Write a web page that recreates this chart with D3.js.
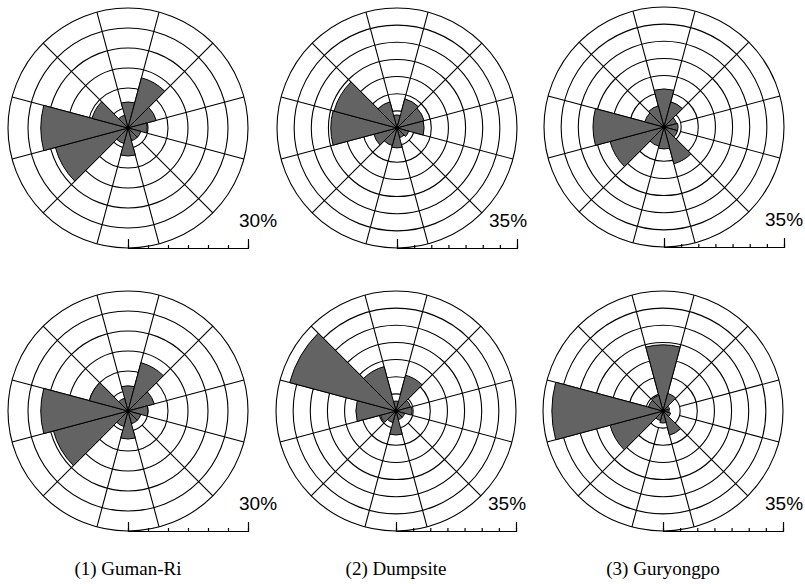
<!DOCTYPE html>
<html>
<head>
<meta charset="utf-8">
<script src="https://cdn.jsdelivr.net/npm/d3@7"></script>
<style>
body { margin: 0; background: white; }
</style>
</head>
<body>
<svg id="chart" width="805" height="584"></svg>
<script>
// wind directions (degrees clockwise from north), 30 degree sectors
var directions = [0, 30, 60, 90, 120, 150, 180, 210, 240, 270, 300, 330];
var siteNames = ["(1) Guman-Ri", "(2) Dumpsite", "(3) Guryongpo"];
var scaleMax = [30, 35, 35, 30, 35, 35];
var ringStep = 5;

// frequency (%) per sector, top row then bottom row
var gumanTop = [6.5, 13, 7.3, 4.8, 3.3, 3.3, 7, 4, 18.8, 21.8, 9.3, 3.3];
var dumpTop = [3.8, 8.8, 8.2, 7.9, 3.5, 2.9, 5.8, 5.3, 7, 19.3, 19, 7.9];
var guryTop = [11.1, 7.6, 3.8, 4.1, 4.1, 11.1, 6.4, 5.8, 16.3, 20.7, 5.8, 6.4];
var gumanBottom = [6.3, 12.5, 6.8, 5, 3.3, 3.3, 7, 4, 19.3, 21.8, 10, 3.3];
var dumpBottom = [2.9, 10.8, 4.4, 4.7, 2.6, 2.6, 7, 3.5, 4.7, 11.7, 32.1, 13.4];
var guryBottom = [19.3, 5.3, 2, 1.8, 2.3, 7.3, 3.5, 2.9, 16, 32.4, 4.4, 4.7];

var roses = [gumanTop, dumpTop, guryTop, gumanBottom, dumpBottom, guryBottom];

var centers = [[128, 128], [397, 128], [664, 127], [128, 411], [396, 411], [663, 411]];
var outerR = 120;
var labelOffset = [111, 92, 101, 111, 92, 102];
var halfSector = 15;

var svg = d3.select("#chart");

function rad(deg)
{
    return deg * Math.PI / 180;
}

function drawRose(i)
{
    let max = scaleMax[i];
    let cx = centers[i][0];
    let cy = centers[i][1];
    let r = d3.scaleLinear().domain([0, max]).range([0, outerR]);
    let g = svg.append("g").attr("transform", "translate(" + cx + "," + cy + ")");

    // rings
    g.selectAll("circle.ring").data(d3.range(ringStep, max + 0.1, ringStep)).enter()
	.append("circle")
	.attr("class", "ring")
	.attr("r", d => r(d))
	.attr("fill", "none")
	.attr("stroke", "black")
	.attr("stroke-width", 1.1);

    // spokes between sectors
    g.selectAll("line.spoke").data(directions).enter()
	.append("line")
	.attr("class", "spoke")
	.attr("x1", d => d3.pointRadial(rad(d + halfSector), r(ringStep))[0])
	.attr("y1", d => d3.pointRadial(rad(d + halfSector), r(ringStep))[1])
	.attr("x2", d => d3.pointRadial(rad(d + halfSector), r(max))[0])
	.attr("y2", d => d3.pointRadial(rad(d + halfSector), r(max))[1])
	.attr("stroke", "black")
	.attr("stroke-width", 1.1);

    // petals
    let arc = d3.arc()
	.innerRadius(0)
	.outerRadius(d => r(d.value))
	.startAngle(d => rad(d.dir - halfSector))
	.endAngle(d => rad(d.dir + halfSector));
    let petals = directions.map((d, k) => ({dir: d, value: roses[i][k]}));
    g.selectAll("path.petal").data(petals).enter()
	.append("path")
	.attr("class", "petal")
	.attr("d", arc)
	.attr("fill", "#636363")
	.attr("stroke", "black")
	.attr("stroke-width", 1);

    // scale bar along the bottom of the circle
    let bar = d3.axisTop(r)
	.tickValues(d3.range(0, max + 0.1, ringStep))
	.tickSizeInner(3)
	.tickSizeOuter(9)
	.tickFormat("");
    let barG = g.append("g")
	.attr("transform", "translate(0," + outerR + ")")
	.call(bar);
    barG.selectAll("path, line").attr("stroke", "black").attr("stroke-width", 1.2);

    g.append("text")
	.attr("x", labelOffset[i])
	.attr("y", 99)
	.attr("font-family", "Liberation Sans, Arial, sans-serif")
	.attr("font-size", 19)
	.text(max + "%");
}

for (let i = 0; i < roses.length; i++)
{
    drawRose(i);
}

svg.selectAll("text.site").data(siteNames).enter()
    .append("text")
    .attr("class", "site")
    .attr("x", (d, k) => centers[3 + k][0])
    .attr("y", 575)
    .attr("text-anchor", "middle")
    .attr("font-family", "Liberation Serif, Times New Roman, serif")
    .attr("font-size", 19)
    .text(d => d);
</script>
</body>
</html>
